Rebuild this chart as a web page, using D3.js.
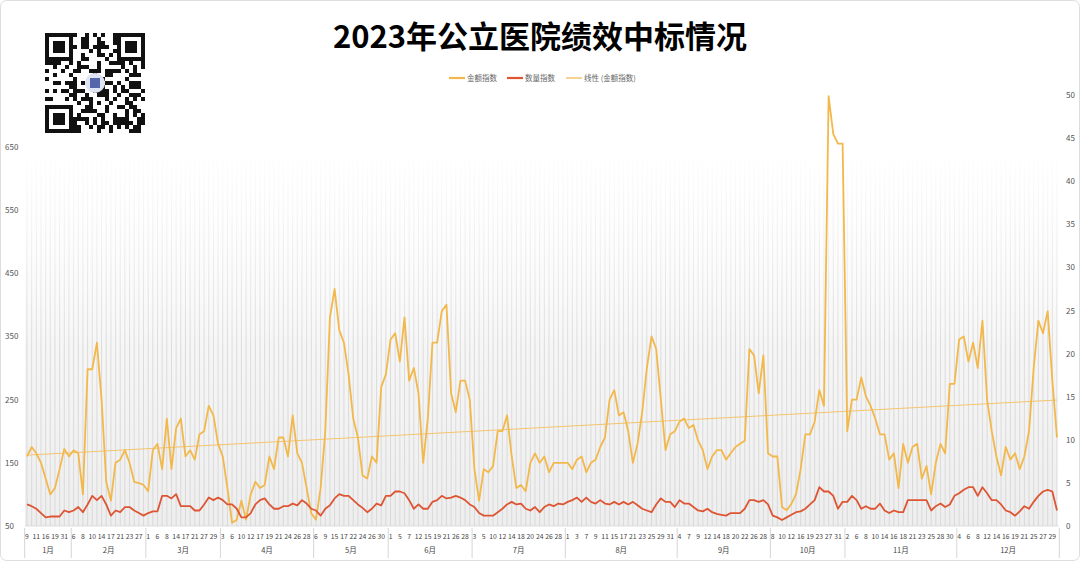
<!DOCTYPE html>
<html><head><meta charset="utf-8">
<script src="https://cdn.jsdelivr.net/npm/d3@7"></script>
<style>body{margin:0;background:#fff}svg{display:block;font-family:"Noto Sans CJK SC","Noto Sans",sans-serif}</style>
</head><body><svg id="c" width="1080" height="561"></svg>
<script>
const months=["1月","2月","3月","4月","5月","6月","7月","8月","9月","10月","11月","12月"];
const monthLabels=[[9,11,16,19,31],[6,8,10,14,17,21,23,27],[1,6,8,14,17,21,27,29],[3,6,10,12,17,19,21,24,26,28],[6,9,15,17,22,24,26,30],[1,5,7,12,15,19,21,26,28],[3,5,10,12,14,18,20,24,26,28],[1,3,7,9,11,15,17,21,23,25,29,31],[4,7,9,12,14,18,20,22,26,28],[8,10,12,16,19,23,27,31],[2,6,8,10,14,16,18,21,23,25,28,30],[4,6,8,12,14,16,19,21,25,27,29]];
const goldIdx=[
[160,175,165,150,125,100,110,140,172,160],
[170,165,100,298,298,340,250,120,90,150,155,170,150,120,118,115],
[105,170,180,140,220,140,205,220,160,170,155,195,200,240,225,180],
[160,110,55,60,90,60,100,120,110,115,160,140,190,190,160,225,165,150,110,70],
[60,110,200,380,425,360,340,290,220,190,130,125,160,150,270,290],
[345,355,310,380,280,300,260,150,220,340,340,390,400,260,230,280,280,250],
[140,90,140,135,145,200,200,225,160,110,115,105,150,165,150,160,135,150,150,150],
[150,140,155,160,135,150,155,175,190,250,265,225,230,200,150,180,230,300,350,330,250,170,195,200],
[215,220,205,210,185,170,140,160,170,170,155,165,175,180,185,330,320,260,320,165],
[160,160,80,75,85,100,140,195,195,215,265,240,730,670,655,655],
[200,250,250,285,255,240,220,195,195,155,165,110,180,150,175,180,125,145,100,150,180,165,275,275],
[345,350,310,340,300,375,250,200,160,130,175,155,165,140,160,200,300,375,355,390,280,190]];
const qtyIdx=[
[2.5,2.3,2,1.5,1,1.1,1.1,1.1,1.8,1.6],
[1.8,2.2,1.6,2.5,3.5,3,3.5,2.5,1.2,1.8,1.6,2.2,2.2,1.8,1.5,1.2],
[1.5,1.7,1.7,3.5,3.5,3.2,3.7,2.3,2.3,2.3,1.8,1.8,2.5,3.3,3,3.3],
[3,2.5,2.5,2,1,1,1.5,2.5,3,3.2,2.5,2,2,2.3,2.3,2.6,2.4,3,2.6,2],
[1.8,1.2,2,2.4,3.2,3.7,3.5,3.5,3,2.5,2.1,1.6,2,2.6,2.4,3.5],
[3.5,4,4,3.8,3,2,2.5,2,2,2.8,3,3.5,3.2,3.3,3.5,3.3,3,2.5],
[2.2,1.5,1.2,1.2,1.2,1.6,2,2.5,2.8,2.5,2.6,2,1.8,2.2,1.6,2.2,2.5,2.3,2.6,2.5],
[2.8,3,3.3,2.8,3.3,2.8,2.6,3,2.6,2.5,2.8,2.5,2.8,2.5,2.8,2.4,2,1.8,1.6,2.5,3.2,2.8,2.8,2.2],
[3,2.6,2.6,2.2,1.8,1.7,2,1.6,1.4,1.3,1.2,1.5,1.5,1.5,2,3,3,2.8,3,2.5],
[1.2,1,0.7,1,1.3,1.6,1.7,2,2.5,3,4.5,4,4,3.5,2,2.8],
[2.8,3.5,3,2,2.3,2,2,2.6,1.8,1.5,1.8,1.6,1.6,3,3,3,3,3,1.8,2.3,2.6,2.2,2.5,3.5],
[3.8,4.2,4.5,4.5,3.5,4.5,3.8,3,3,2.5,1.8,1.6,1.2,1.7,2.3,2,2.8,3.5,4,4.2,4,1.8]];
const leftTicks=[50,150,250,350,450,550,650];
const rightTicks=[0,5,10,15,20,25,30,35,40,45,50];

const pts=[];
months.forEach((m,mi)=>{
  goldIdx[mi].forEach((g,i)=>{
    const lab=monthLabels[mi];
    const day = i%2===0 ? lab[i/2] : (lab[(i-1)/2]+1);
    pts.push({key:mi+"-"+i,m:mi,day,label:i%2===0?String(day):"",g,q:qtyIdx[mi][i]});
  });
});
const svg=d3.select("#c");
const L=25,R=1057,T=95,B=526;
const x=d3.scalePoint().domain(pts.map(d=>d.key)).range([L+2,R]);
const step=x.step();
const yL=d3.scaleLinear().domain([50,50+(B-T)/0.632]).range([B,T]);
const yR=d3.scaleLinear().domain([0,50]).range([B,T]);

svg.append("rect").attr("x",0.5).attr("y",0.5).attr("width",1079).attr("height",560).attr("rx",6).attr("fill","none").attr("stroke","#ddd");
const defs=svg.append("defs");
const gr=defs.append("linearGradient").attr("id","bg").attr("x1",0).attr("x2",0).attr("y1",0).attr("y2",1);
gr.append("stop").attr("offset","0%").attr("stop-color","#fff");
gr.append("stop").attr("offset","100%").attr("stop-color","#eeeeee");
svg.append("rect").attr("x",L).attr("y",140).attr("width",R-L).attr("height",B-140).attr("fill","url(#bg)");
svg.append("g").selectAll("line").data(pts).join("line")
 .attr("x1",d=>x(d.key)).attr("x2",d=>x(d.key)).attr("y1",160).attr("y2",B)
 .attr("stroke","#d0d0d0").attr("stroke-width",0.7);
const fg=defs.append("linearGradient").attr("id","fade").attr("x1",0).attr("x2",0).attr("y1",0).attr("y2",1);
fg.append("stop").attr("offset","0%").attr("stop-color","#fff").attr("stop-opacity",1);
fg.append("stop").attr("offset","100%").attr("stop-color","#fff").attr("stop-opacity",0);
svg.append("rect").attr("x",L).attr("y",150).attr("width",R-L+2).attr("height",200).attr("fill","url(#fade)");

svg.append("text").attr("x",540).attr("y",48).attr("text-anchor","middle").attr("font-size",31).attr("font-weight",700).attr("fill","#000").text("2023年公立医院绩效中标情况");

const qr=svg.append("g").attr("transform","translate(45,33)");
qr.append("rect").attr("width",101).attr("height",100).attr("fill","#fff");
const n=25,c=4;
for(let i=0;i<n;i++)for(let j=0;j<n;j++){
  const h=((i*73856093)^(j*19349663)^(i*j*83492791))>>>0;
  if(h%7<3) qr.append("rect").attr("x",i*c).attr("y",j*c).attr("width",c).attr("height",c).attr("fill","#111");
}
[[0,0],[18,0],[0,18]].forEach(([a,b])=>{
  qr.append("rect").attr("x",a*c).attr("y",b*c).attr("width",7*c).attr("height",7*c).attr("fill","#111");
  qr.append("rect").attr("x",a*c+c).attr("y",b*c+c).attr("width",5*c).attr("height",5*c).attr("fill","#fff");
  qr.append("rect").attr("x",a*c+2*c).attr("y",b*c+2*c).attr("width",3*c).attr("height",3*c).attr("fill","#111");
});
qr.append("circle").attr("cx",50).attr("cy",50).attr("r",10).attr("fill","#dfe3f2");
qr.append("rect").attr("x",45).attr("y",45).attr("width",10).attr("height",10).attr("fill","#5566aa");

const leg=[{t:"金额指数",c:"#f2b84b",w:1.6},{t:"数量指数",c:"#dd5533",w:1.6},{t:"线性 (金额指数)",c:"#f7cf85",w:1.2}];
const lx=[449,507,566];
leg.forEach((d,i)=>{
  svg.append("line").attr("x1",lx[i]).attr("x2",lx[i]+16).attr("y1",78).attr("y2",78).attr("stroke",d.c).attr("stroke-width",d.w+0.6);
  svg.append("text").attr("x",lx[i]+18).attr("y",81).attr("font-size",7.5).attr("fill","#666").text(d.t);
});

svg.append("g").selectAll("text").data(leftTicks).join("text").attr("x",5).attr("y",d=>yL(d)+3).attr("font-size",8).attr("fill","#555").text(d=>d);
svg.append("g").selectAll("text").data(rightTicks).join("text").attr("x",1066).attr("y",d=>yR(d)+3).attr("font-size",8).attr("fill","#555").text(d=>d);

svg.append("g").selectAll("text").data(pts.filter(d=>d.label)).join("text")
 .attr("x",d=>x(d.key)).attr("y",539).attr("text-anchor","middle").attr("font-size",6.8).attr("fill","#444").text(d=>d.label);
const monthGroups=d3.groups(pts,d=>d.m);
monthGroups.forEach(([mi,arr],k)=>{
  const x0=x(arr[0].key)-step/2, x1=x(arr[arr.length-1].key)+step/2;
  svg.append("line").attr("x1",x0).attr("x2",x0).attr("y1",528).attr("y2",558).attr("stroke","#ccc").attr("stroke-width",0.8);
  if(k===monthGroups.length-1) svg.append("line").attr("x1",x1).attr("x2",x1).attr("y1",528).attr("y2",558).attr("stroke","#ccc").attr("stroke-width",0.8);
  svg.append("text").attr("x",(x0+x1)/2).attr("y",553).attr("text-anchor","middle").attr("font-size",7.5).attr("fill","#444").text(months[mi]);
});
svg.append("line").attr("x1",L).attr("x2",R+2).attr("y1",B).attr("y2",B).attr("stroke","#ccc").attr("stroke-width",0.6);

const N=pts.length; const xs=d3.range(N); const ys=pts.map(d=>d.g);
const mx=d3.mean(xs), my=d3.mean(ys);
const slope=d3.sum(xs,(v,i)=>(v-mx)*(ys[i]-my))/d3.sum(xs,v=>(v-mx)**2);
const icp=my-slope*mx;
svg.append("line").attr("x1",x(pts[0].key)).attr("x2",x(pts[N-1].key))
 .attr("y1",yL(icp)).attr("y2",yL(icp+slope*(N-1))).attr("stroke","#f5c46e").attr("stroke-width",1);

svg.append("path").datum(pts).attr("fill","none").attr("stroke","#f2b84b").attr("stroke-width",1.8).attr("stroke-linejoin","round")
 .attr("d",d3.line().x(d=>x(d.key)).y(d=>yL(d.g)));
svg.append("path").datum(pts).attr("fill","none").attr("stroke","#dd5533").attr("stroke-width",1.8).attr("stroke-linejoin","round")
 .attr("d",d3.line().x(d=>x(d.key)).y(d=>yR(d.q)));
</script></body></html>
